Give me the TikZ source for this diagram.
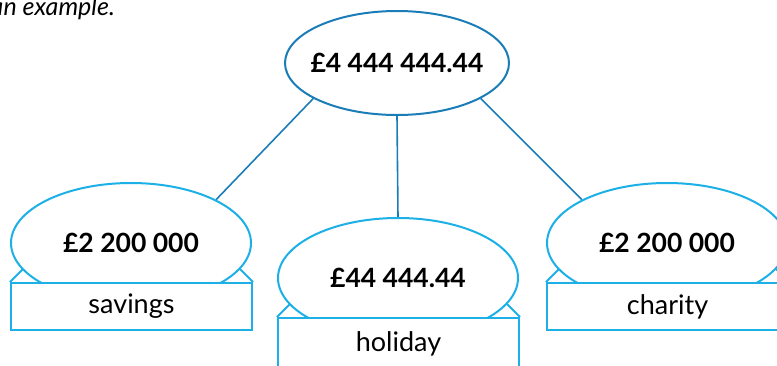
\documentclass[tikz,border=0pt]{standalone}
\usepackage{fontspec}
\setmainfont{Lato}
\usetikzlibrary{shapes.geometric}
\definecolor{cyanline}{HTML}{1CB0E6}
\definecolor{darkline}{HTML}{1B7DB8}
\pgfdeclarelayer{bg}
\pgfsetlayers{bg,main}
\begin{document}
\begin{tikzpicture}[x=1pt,y=-1pt,
  topell/.style={ellipse,draw=darkline,line width=2pt,fill=white,inner sep=0pt,
    minimum width=224pt,minimum height=104pt},
  bell/.style={ellipse,draw=cyanline,line width=2pt,fill=white,inner sep=0pt,
    minimum width=240pt,minimum height=120pt},
  amount/.style={inner sep=0pt,font=\fontsize{26.5}{30}\selectfont\bfseries},
  labbox/.style={rectangle,draw=cyanline,line width=2pt,fill=white,inner sep=0pt,
    minimum width=241pt,font=\fontsize{27}{30}\selectfont},
  conn/.style={draw=darkline,line width=1.6pt},
  tray/.style={draw=cyanline,line width=2pt}]
\useasboundingbox (0,0) rectangle (777,365);
\node[anchor=base east,inner sep=0pt,font=\fontsize{25}{28}\selectfont\itshape] (intro) at (115,15) {an example.};
% nodes
\node[topell] (top) at (397,63) {};
\node[amount] (toptxt) at (top.center) {£4 444 444.44};
\node[bell] (left) at (131,243) {};
\node[amount] (lefttxt) at (left.center) {£2 200 000};
\node[labbox,minimum height=47pt] (lbox) at (131.5,306.5) {savings};
\node[bell] (mid) at (398,278) {};
\node[amount] (midtxt) at (mid.center) {£44 444.44};
\node[labbox,minimum height=52pt] (mbox) at (398.5,344) {holiday};
\node[bell] (right) at (667,243) {};
\node[amount] (righttxt) at (right.center) {£2 200 000};
\node[labbox,minimum height=47pt] (rbox) at (667.5,306.5) {charity};
\begin{pgfonlayer}{bg}
\draw[conn] (top.203) -- (left.27);
\draw[conn] (top.south) -- (mid.north);
\draw[conn] (top.337) -- (right.153);
\foreach \b in {lbox,mbox,rbox}{
  \draw[tray] (\b.north west) -- ++(25,-25);
  \draw[tray] (\b.north east) -- ++(-25,-25);
}
\end{pgfonlayer}
\end{tikzpicture}
\end{document}
